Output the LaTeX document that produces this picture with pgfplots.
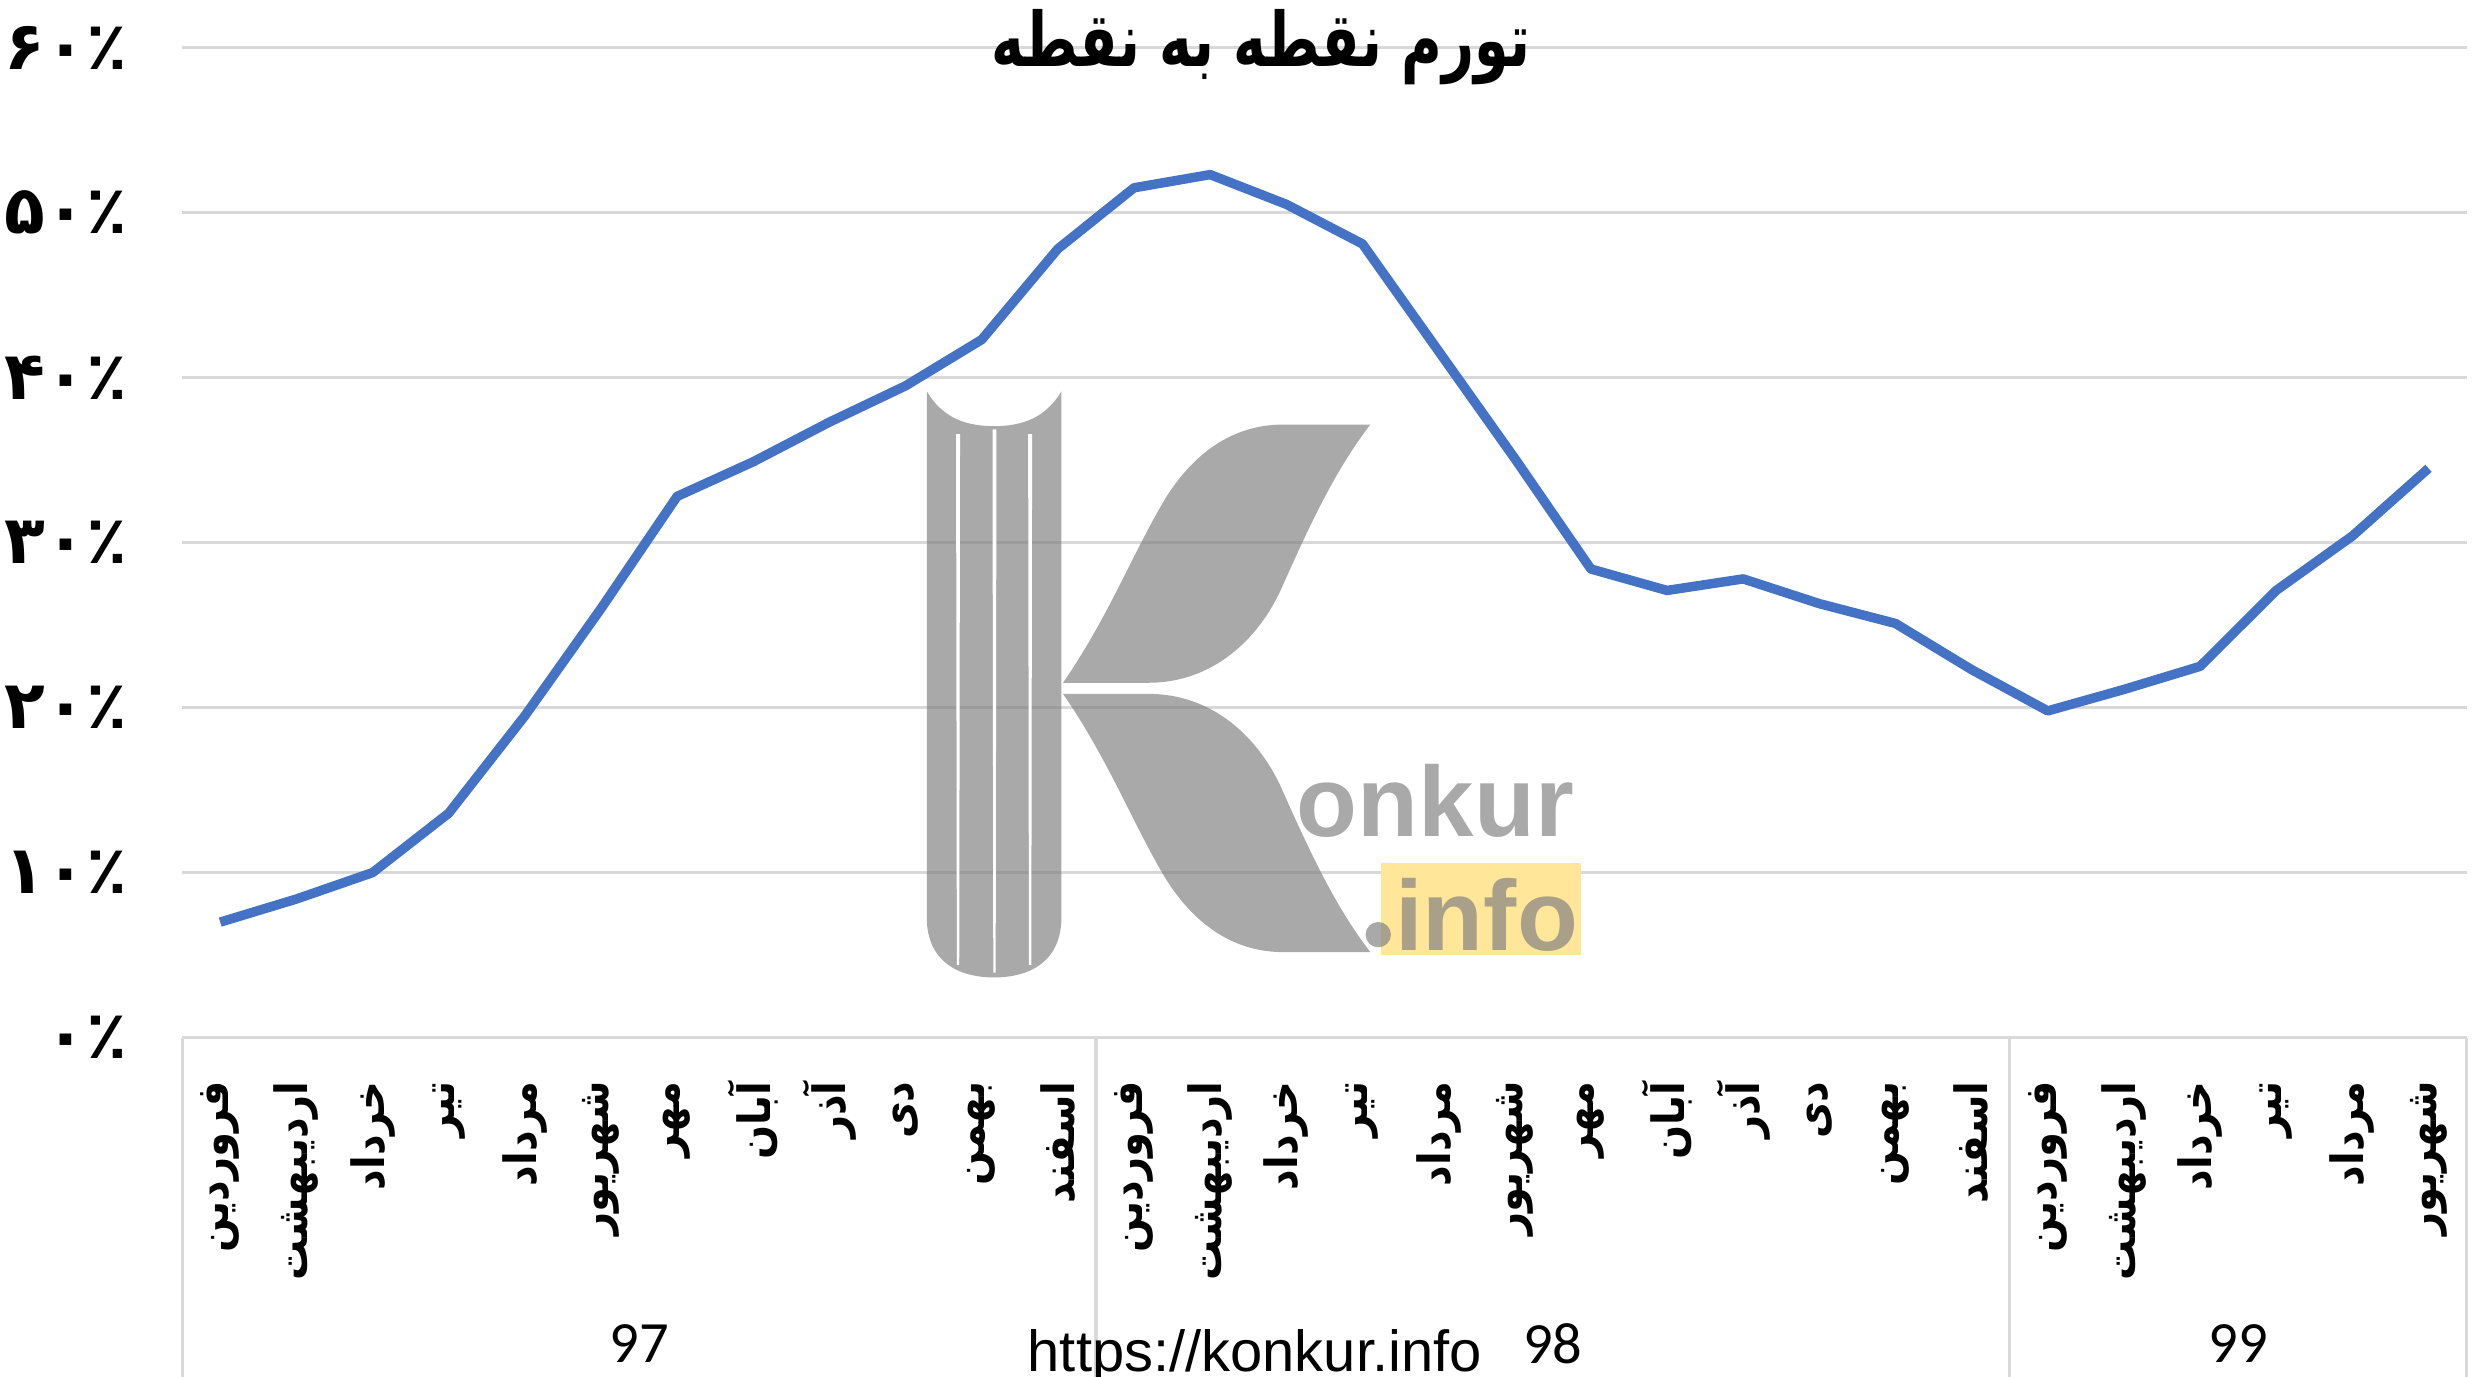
\documentclass[border=0pt]{standalone}
\usepackage{pgfplots}
\pgfplotsset{compat=1.18}
\usepackage{fontspec}
\setmainfont{Liberation Sans}
\newfontfamily\arabicfont[Script=Arabic]{DejaVu Sans}
\newfontfamily\arabicmonth[Script=Arabic, FakeStretch=0.9]{DejaVu Sans}
\newfontfamily\arabictitle[Script=Arabic, FakeStretch=0.74]{DejaVu Sans}
\newfontfamily\carlito{Carlito}
\TeXXeTstate=1
\newcommand\fa[1]{\beginR#1\endR}
\definecolor{lineblue}{HTML}{4472C4}
\definecolor{gridgray}{HTML}{D9D9D9}
\definecolor{logoyellow}{HTML}{FFE699}
\begin{document}
\begin{tikzpicture}
\path[use as bounding box] (0,0) rectangle (15.68,8.69);
\begin{axis}[
  at={(1.15cm,2.14cm)}, anchor=south west,
  scale only axis, width=14.42cm, height=6.25cm,
  xmin=-0.5, xmax=29.5, ymin=0, ymax=60,
  clip=false,
  axis line style={draw=none},
  major tick length=0pt,
  tick style={draw=none},
  ymajorgrids, grid style={gridgray, line width=0.6pt},
  ytick={0,10,...,60},
  yticklabels={۰٪,۱۰٪,۲۰٪,۳۰٪,۴۰٪,۵۰٪,۶۰٪},
  yticklabel style={anchor=east, inner sep=0pt, xshift=-0.34cm,
    font=\arabicfont\bfseries\fontsize{12}{12}\selectfont},
  xtick={0,...,29},
  xticklabels={\fa{فروردین},\fa{اردیبهشت},\fa{خرداد},\fa{تیر},\fa{مرداد},\fa{شهریور},\fa{مهر},\fa{آبان},\fa{آذر},\fa{دی},\fa{بهمن},\fa{اسفند},
               \fa{فروردین},\fa{اردیبهشت},\fa{خرداد},\fa{تیر},\fa{مرداد},\fa{شهریور},\fa{مهر},\fa{آبان},\fa{آذر},\fa{دی},\fa{بهمن},\fa{اسفند},
               \fa{فروردین},\fa{اردیبهشت},\fa{خرداد},\fa{تیر},\fa{مرداد},\fa{شهریور}},
  xticklabel shift=0.27cm,
  xticklabel style={rotate=90, anchor=east, inner sep=0pt,
    font=\arabicmonth\bfseries\fontsize{8}{8}\selectfont},
]
\addplot[lineblue, line width=1.7pt, line join=round] coordinates {
 (0,7.0) (1,8.4) (2,10.0) (3,13.6) (4,19.5) (5,26.0) (6,32.8) (7,34.9) (8,37.3) (9,39.5) (10,42.3) (11,47.8)
 (12,51.5) (13,52.3) (14,50.5) (15,48.1) (16,41.6) (17,35.1) (18,28.4) (19,27.1) (20,27.8) (21,26.3) (22,25.1) (23,22.3)
 (24,19.8) (25,21.1) (26,22.5) (27,27.1) (28,30.4) (29,34.5)
};
\draw[gridgray, line width=0.6pt] (axis cs:-0.5,0) -- ++(0pt,-2.3cm);
\draw[gridgray, line width=0.6pt] (axis cs:11.5,0) -- ++(0pt,-2.3cm);
\draw[gridgray, line width=0.6pt] (axis cs:23.5,0) -- ++(0pt,-2.3cm);
\draw[gridgray, line width=0.6pt] (axis cs:29.5,0) -- ++(0pt,-2.3cm);
\node[font=\carlito\fontsize{10.5}{10.5}\selectfont, yshift=-1.93cm] at (axis cs:5.5,0) {97};
\node[font=\carlito\fontsize{10.5}{10.5}\selectfont, yshift=-1.93cm] at (axis cs:17.5,0) {98};
\node[font=\carlito\fontsize{10.5}{10.5}\selectfont, yshift=-1.93cm] at (axis cs:26.5,0) {99};
\end{axis}
% watermark logo
\begin{scope}[fill=gray, fill opacity=0.68]
\fill (5.85,6.22) -- (5.85,2.9) .. controls (5.85,2.62) and (6.05,2.52) .. (6.275,2.52)
  .. controls (6.5,2.52) and (6.70,2.62) .. (6.70,2.9) -- (6.70,6.22)
  .. controls (6.60,6.05) and (6.45,6.00) .. (6.275,6.00)
  .. controls (6.10,6.00) and (5.95,6.05) .. (5.85,6.22) -- cycle;
\fill (6.71,4.38) .. controls (7.0,4.8) and (7.15,5.2) .. (7.36,5.55)
  .. controls (7.55,5.85) and (7.80,6.01) .. (8.10,6.01) -- (8.65,6.01)
  .. controls (8.45,5.75) and (8.30,5.45) .. (8.10,5.0)
  .. controls (7.95,4.65) and (7.65,4.38) .. (7.25,4.38) -- cycle;
\fill (6.71,4.31) .. controls (7.0,3.89) and (7.15,3.49) .. (7.36,3.14)
  .. controls (7.55,2.84) and (7.80,2.68) .. (8.10,2.68) -- (8.65,2.68)
  .. controls (8.45,2.94) and (8.30,3.24) .. (8.10,3.69)
  .. controls (7.95,4.04) and (7.65,4.31) .. (7.25,4.31) -- cycle;
\end{scope}
\fill[white] (6.035,5.95) -- (6.06,5.95) -- (6.055,2.60) -- (6.04,2.60) -- cycle;
\fill[white] (6.265,5.98) -- (6.29,5.98) -- (6.285,2.55) -- (6.27,2.55) -- cycle;
\fill[white] (6.49,5.95) -- (6.515,5.95) -- (6.51,2.60) -- (6.495,2.60) -- cycle;
\fill[logoyellow] (8.72,2.66) rectangle (9.98,3.24);
\fill[gray, fill opacity=0.68] (8.70,2.79) circle (0.08);
\node[anchor=base west, inner sep=0pt, text=gray, text opacity=0.68, font=\bfseries\fontsize{17.9}{18}\selectfont] at (8.18,3.41) {onkur};
\node[anchor=base west, inner sep=0pt, text=gray, text opacity=0.68, font=\bfseries\fontsize{17.9}{18}\selectfont] at (8.80,2.69) {info};
\node[anchor=base, inner sep=0pt, font=\fontsize{10.4}{12}\selectfont] at (7.92,0.03) {https://konkur.info};
\node[font=\arabictitle\bfseries\fontsize{13.5}{13.5}\selectfont] at (7.96,8.39) {\fa{تورم نقطه به نقطه}};
\end{tikzpicture}
\end{document}
